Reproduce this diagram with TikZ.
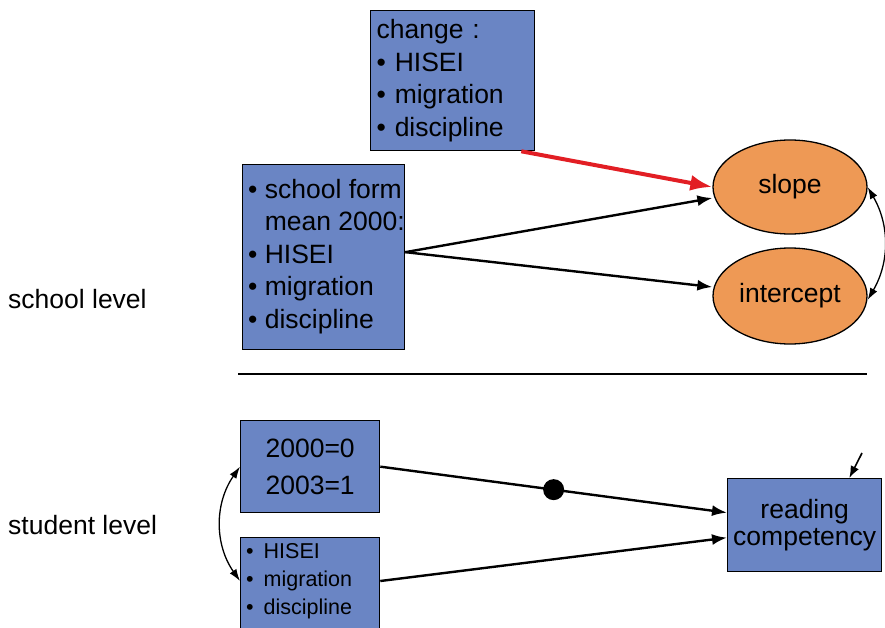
\documentclass[tikz,border=0pt]{standalone}
\usepackage{fontspec}
\setmainfont{Liberation Sans}
\usetikzlibrary{arrows.meta,calc,shapes.geometric}
\definecolor{boxblue}{RGB}{106,133,196}
\definecolor{ovorange}{RGB}{238,153,85}
\definecolor{arrred}{RGB}{226,30,36}
\begin{document}
\begin{tikzpicture}[x=1pt,y=1pt,
  box/.style={draw=black, line width=1.3pt, fill=boxblue, inner ysep=0pt, anchor=north west},
  big/.style={font=\fontsize{26.5}{32.5}\selectfont},
  oval/.style={ellipse, draw=black, line width=1.3pt, fill=ovorange, inner sep=0pt, big},
  arr/.style={line width=2.4pt, -{Latex[length=15pt,width=11pt]}},
  redarr/.style={line width=4pt, draw=arrred, -{Latex[length=22pt,width=16pt]}},
  arrtwo/.style={line width=1.3pt, {Latex[length=12pt,width=8pt]}-{Latex[length=12pt,width=8pt]}},
  dotnode/.style={circle, fill=black, minimum size=21pt, inner sep=0pt}
]
\useasboundingbox (0,0) rectangle (885,-628);

% school level boxes
\node[box, big, minimum width=164, minimum height=140, text width=152, inner xsep=6pt, align=left] (chg) at (370,-10)
  {change :\\\textbullet\ HISEI\\\textbullet\ migration\\\textbullet\ discipline};
\node[box, minimum width=162, minimum height=185] (sb) at (242,-164) {};
\node[big, anchor=west, inner sep=0pt, align=left] (sbt) at (248,-256.5)
  {\textbullet\ school form\\\hphantom{\textbullet\ }mean 2000:\\\textbullet\ HISEI\\\textbullet\ migration\\\textbullet\ discipline};

\node[oval, minimum width=154, minimum height=94] (sl) at (790,-187) {slope};
\node[oval, minimum width=154, minimum height=96] (ic) at (790,-296) {intercept};

\node[big, anchor=west, inner sep=0pt] (lvl1) at (8,-299) {school level};
\node[big, anchor=west, inner sep=0pt] (lvl2) at (8,-525) {student level};

% separator
\coordinate (r1) at (238,-374);
\coordinate (r2) at (867,-374);
\draw[line width=2.2pt] (r1) -- (r2);

% student level boxes
\node[box, font=\fontsize{26.5}{37}\selectfont, minimum width=139, minimum height=92, text width=127, inner xsep=6pt, align=center] (tt) at (240,-420)
  {2000=0\\2003=1};
\node[box, minimum width=139, minimum height=100] (hb) at (240,-537) {};
\node[anchor=west, inner sep=0pt, font=\fontsize{21.5}{28}\selectfont, align=left] (hbt) at (246,-581)
  {\textbullet\hspace{10pt}HISEI\\\textbullet\hspace{10pt}migration\\\textbullet\hspace{10pt}discipline};

\node[box, font=\fontsize{26.5}{26.5}\selectfont, minimum width=154, minimum height=93, text width=152, inner xsep=1pt, align=center] (rc) at (727,-478)
  {reading\\competency};

% connectors
\draw[redarr] ([xshift=-14]chg.south east) -- (sl.west);
\draw[arr] ([yshift=5]sb.east) -- ([yshift=-11]sl.west);
\draw[arr] ([yshift=5]sb.east) -- ([yshift=9]ic.west);
\draw[arrtwo] (sl.east) to[bend left=30] ([yshift=-4]ic.east);

\draw[arr] (tt.east) -- node[dotnode] (dt) {} ([yshift=12.5]rc.west);
\draw[arr] (hb.east |- hbt.east) -- ([yshift=-12.5]rc.west);
\draw[arrtwo] (tt.west) to[bend right=35] (hb.west |- hbt.west);
\coordinate (ext) at (862,-453);
\draw[line width=1.6pt, -{Latex[length=12pt,width=9pt]}] (ext) -- ([xshift=-33]rc.north east);
\end{tikzpicture}
\end{document}
